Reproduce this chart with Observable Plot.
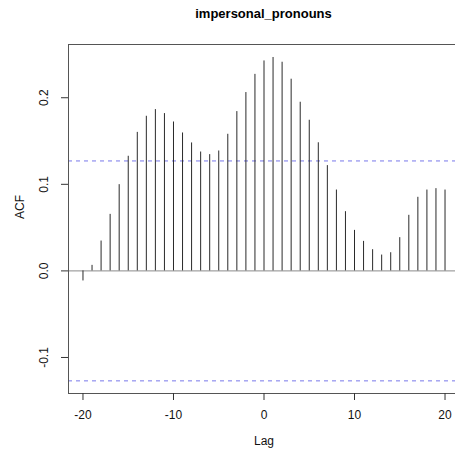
<!DOCTYPE html>
<html>
<head>
<meta charset="utf-8">
<script src="https://cdn.jsdelivr.net/npm/d3@7"></script>
<script src="https://cdn.jsdelivr.net/npm/@observablehq/plot@0.6"></script>
<style>
  html, body { margin: 0; padding: 0; background: #fff; overflow: hidden; }
  body { width: 455px; height: 459px; font-family: "Liberation Sans", Arial, Helvetica, sans-serif; }
  #title { margin-left: 68px; width: 391px; height: 30px; line-height: 28px; text-align: center; font-weight: bold; font-size: 13px; color: #000; }
  svg { display: block; overflow: visible; }
</style>
</head>
<body>
<div id="title">impersonal_pronouns</div>
<div id="chart"></div>
<script>
const lags = [-20, -19, -18, -17, -16, -15, -14, -13, -12, -11, -10, -9, -8, -7, -6, -5, -4, -3, -2, -1, 0,
              1, 2, 3, 4, 5, 6, 7, 8, 9, 10, 11, 12, 13, 14, 15, 16, 17, 18, 19, 20];
const acfValues = [-0.0116, 0.0064, 0.0345, 0.0653, 0.0996, 0.1324, 0.1600, 0.1786, 0.1863, 0.1817, 0.1720,
                   0.1593, 0.1478, 0.1373, 0.1343, 0.1385, 0.1578, 0.1840, 0.2060, 0.2270, 0.2425,
                   0.2465, 0.2410, 0.2214, 0.1948, 0.1740, 0.1480, 0.1216, 0.0934, 0.0684, 0.0468,
                   0.0341, 0.0245, 0.0183, 0.0210, 0.0384, 0.0642, 0.0850, 0.0934, 0.0950, 0.0934];
const confLimit = 0.127;
const xTicks = [-20, -10, 0, 10, 20];
const yTicks = [-0.1, 0.0, 0.1, 0.2];
const xLabel = "Lag";
const yLabel = "ACF";

const data = lags.map((lag, i) => ({lag, acf: acfValues[i]}));

const chart = Plot.plot({
  width: 455,
  height: 429,
  marginTop: 14,
  marginBottom: 66,
  marginLeft: 68,
  marginRight: -4,
  style: {fontFamily: '"Liberation Sans", Arial, Helvetica, sans-serif', fontSize: "12px", color: "#000", background: "#fff"},
  x: {domain: [-21.6, 21.6], axis: null},
  y: {domain: [-0.1416, 0.2615], axis: null},
  marks: [
    Plot.ruleY([0], {stroke: "#8a8a8a", strokeWidth: 1}),
    Plot.ruleY([confLimit, -confLimit], {stroke: "#7878ea", strokeWidth: 1, strokeDasharray: "4,4"}),
    Plot.ruleX(data, {x: "lag", y1: 0, y2: "acf", stroke: "#2a2a2a", strokeWidth: 1}),
    Plot.frame({stroke: "#555", strokeWidth: 1}),
    Plot.axisX({ticks: xTicks, tickSize: 7, tickPadding: 10, tickFormat: d => String(d), label: null, stroke: "#333", fill: "#111"}),
    Plot.axisY({ticks: yTicks, tickSize: 7, tickPadding: 14, tickRotate: -90, tickFormat: d => d.toFixed(1), label: null, stroke: "#333", fill: "#111"}),
    Plot.text([xLabel], {frameAnchor: "bottom", dy: 51, text: d => d, fontSize: 12, fill: "#111"}),
    Plot.text([yLabel], {frameAnchor: "left", dx: -48, rotate: -90, text: d => d, fontSize: 12, fill: "#111"})
  ]
});
document.getElementById("chart").appendChild(chart);
</script>
</body>
</html>
